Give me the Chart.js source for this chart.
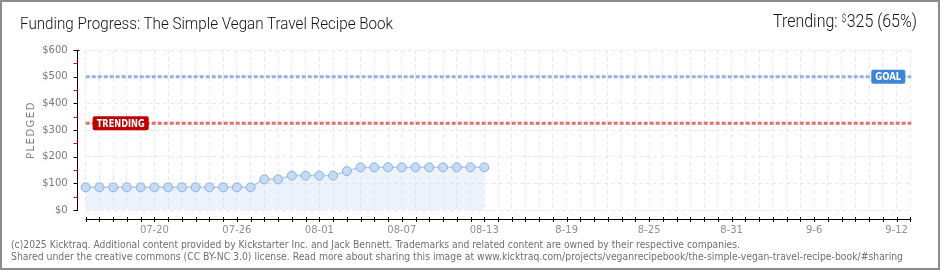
<!DOCTYPE html>
<html>
<head>
<meta charset="utf-8">
<script src="https://cdn.jsdelivr.net/npm/chart.js@4.4.1/dist/chart.umd.min.js"></script>
<style>
  html, body { margin: 0; padding: 0; background: #fff; }
  #wrap { position: relative; width: 940px; height: 270px; overflow: hidden; background: #fff; }
  #frame { position: absolute; left: 0; top: 0; width: 940px; height: 270px; box-sizing: border-box; border: 2px solid #8c8c8c; pointer-events: none; }
  canvas { position: absolute; left: 0; top: 0; }
  .txt { position: absolute; white-space: nowrap; line-height: 1; transform-origin: 0 0;
         font-family: "DejaVu Sans Condensed", "DejaVu Sans", sans-serif; }
  .head { font-family: Roboto, "DejaVu Sans Condensed", sans-serif; font-weight: 300; color: #111; }
  #title { left: 20px; top: 15.6px; font-size: 16px; }
  #trend { left: 773px; top: 12.6px; font-size: 17.5px; }
  #trend .sup { font-size: 10px; position: relative; top: -5px; }
  #pledged { left: 30.5px; top: 130px; font-size: 10px; color: #808080; letter-spacing: 1.5px;
             transform: translate(-50%, -50%) rotate(-90deg); transform-origin: 50% 50%;
             font-family: "DejaVu Sans", sans-serif; }
  .foot { font-size: 10px; color: #707070; }
  #foot1 { left: 11px; top: 239.5px; }
  #foot2 { left: 11px; top: 251.8px; }
</style>
</head>
<body>
<div id="wrap">
  <canvas id="chart" width="940" height="270"></canvas>
  <div id="title" class="txt head fit" data-w="373">Funding Progress: The Simple Vegan Travel Recipe Book</div>
  <div id="trend" class="txt head fit" data-w="144">Trending: <span class="sup">$</span>325 (65%)</div>
  <div id="pledged" class="txt">PLEDGED</div>
  <div id="foot1" class="txt foot fit" data-w="729">(c)2025 Kicktraq. Additional content provided by Kickstarter Inc. and Jack Bennett. Trademarks and related content are owned by their respective companies.</div>
  <div id="foot2" class="txt foot fit" data-w="892">Shared under the creative commons (CC BY-NC 3.0) license. Read more about sharing this image at www.kicktraq.com/projects/veganrecipebook/the-simple-vegan-travel-recipe-book/#sharing</div>
  <div id="frame"></div>
</div>
<script>
const days = [
  '07-15', '07-16', '07-17', '07-18', '07-19', '07-20', '07-21', '07-22', '07-23', '07-24',
  '07-25', '07-26', '07-27', '07-28', '07-29', '07-30', '07-31', '08-01', '08-02', '08-03',
  '08-04', '08-05', '08-06', '08-07', '08-08', '08-09', '08-10', '08-11', '08-12', '08-13',
  '08-14', '08-15', '08-16', '08-17', '08-18', '08-19', '08-20', '08-21', '08-22', '08-23',
  '08-24', '08-25', '08-26', '08-27', '08-28', '08-29', '08-30', '08-31', '09-01', '09-02',
  '09-03', '09-04', '09-05', '09-06', '09-07', '09-08', '09-09', '09-10', '09-11', '09-12',
  '09-13'
];
const tickDates = ['07-20', '07-26', '08-01', '08-07', '08-13', '08-19', '08-25', '08-31', '09-06', '09-12'];
const tickLabels = ['07-20', '07-26', '08-01', '08-07', '08-13', '8-19', '8-25', '8-31', '9-6', '9-12'];
// pledged total per day (only the days so far)
const pledged = [
  85, 85, 85, 85, 85, 85, 85, 85, 85, 85, 85, 85, 85,
  115, 115, 129, 129, 129, 129, 146,
  160, 160, 160, 160, 160, 160, 160, 160, 160, 160
];
const goal = 500;
const trending = 325;

// squeeze html text to the width it has in the picture
document.querySelectorAll('.fit').forEach((el) => {
  const w = el.getBoundingClientRect().width;
  el.style.transform = 'scaleX(' + (el.dataset.w / w) + ')';
});

function refLine(ctx, area, y, color) {
  ctx.save();
  ctx.strokeStyle = color;
  ctx.lineWidth = 3;
  ctx.setLineDash([4, 2]);
  ctx.beginPath();
  ctx.moveTo(area.left, y);
  ctx.lineTo(area.right + 1, y);
  ctx.stroke();
  ctx.restore();
}

function badge(ctx, x, y, w, text, color) {
  ctx.save();
  ctx.fillStyle = color;
  ctx.beginPath();
  ctx.roundRect(x, y - 7, w, 14, 2);
  ctx.fill();
  ctx.fillStyle = '#fff';
  ctx.font = 'bold 10.5px "DejaVu Sans Condensed", "DejaVu Sans", sans-serif';
  ctx.textBaseline = 'middle';
  ctx.textAlign = 'center';
  ctx.fillText(text, x + w / 2, y + 0.5, w - 8);
  ctx.restore();
}

const kickAxes = {
  id: 'kickAxes',
  beforeDatasetsDraw(chart) {
    const { ctx, chartArea, scales } = chart;
    refLine(ctx, chartArea, scales.y.getPixelForValue(goal), '#93b3df');
    refLine(ctx, chartArea, scales.y.getPixelForValue(trending), '#de7070');
  },
  afterDraw(chart) {
    const { ctx, chartArea: a, scales } = chart;
    const x = scales.x, y = scales.y;
    const ax = Math.round(a.left) - 9 + 0.5;
    const ay = Math.round(a.bottom) + 9.5;
    ctx.save();
    ctx.lineWidth = 1;
    ctx.strokeStyle = '#000';
    // y axis
    ctx.beginPath();
    ctx.moveTo(ax, y.getPixelForValue(600));
    ctx.lineTo(ax, y.getPixelForValue(0) + 1);
    for (let v = 0; v <= 600; v += 100) {
      const py = Math.round(y.getPixelForValue(v)) + 0.5;
      ctx.moveTo(ax - 4, py);
      ctx.lineTo(ax + (v === 600 ? 2 : 0), py);
    }
    ctx.stroke();
    ctx.strokeStyle = '#e00000';
    ctx.beginPath();
    for (let v = 50; v < 600; v += 100) {
      const py = Math.round(y.getPixelForValue(v)) + 0.5;
      ctx.moveTo(ax - 4, py);
      ctx.lineTo(ax, py);
    }
    ctx.stroke();
    // x axis
    ctx.strokeStyle = '#000';
    ctx.beginPath();
    ctx.moveTo(x.getPixelForValue(0), ay);
    ctx.lineTo(x.getPixelForValue(days.length - 1) + 1, ay);
    days.forEach((d, i) => {
      const px = Math.round(x.getPixelForValue(i)) + 0.5;
      ctx.moveTo(px, ay - 2.5);
      ctx.lineTo(px, ay + 2.5);
    });
    ctx.stroke();
    ctx.restore();

    badge(ctx, a.right - 39, y.getPixelForValue(goal), 34, 'GOAL', '#3a86d8');
    badge(ctx, a.left + 7, y.getPixelForValue(trending), 56, 'TRENDING', '#bf0000');
  },
};

const tickFont = { family: '"DejaVu Sans", sans-serif', size: 10 };

new Chart(document.getElementById('chart').getContext('2d'), {
  type: 'line',
  data: {
    labels: days,
    datasets: [
      {
        data: pledged,
        borderColor: '#b3cdee',
        borderWidth: 1.5,
        backgroundColor: 'rgba(200, 222, 248, 0.35)',
        fill: 'origin',
        tension: 0,
        pointRadius: 4.5,
        pointBackgroundColor: '#c3dbf6',
        pointBorderColor: '#8fb0db',
        pointBorderWidth: 1,
      },
    ],
  },
  options: {
    responsive: false,
    animation: false,
    layout: { padding: { left: 29.7, right: 29.7, top: 50, bottom: 0 } },
    plugins: { legend: { display: false }, tooltip: { enabled: false } },
    scales: {
      x: {
        type: 'category',
        offset: false,
        grid: { color: '#e9e9e9', drawTicks: false },
        border: { display: false, dash: [4, 3] },
        ticks: {
          autoSkip: false,
          maxRotation: 0,
          padding: 14,
          color: '#909090',
          font: tickFont,
          callback: (v, i) => {
            const k = tickDates.indexOf(days[i]);
            return k >= 0 ? tickLabels[k] : '';
          },
        },
        afterFit: (s) => { s.height = 60; },
      },
      y: {
        min: 0,
        max: 600,
        grid: { color: '#e9e9e9', drawTicks: false },
        border: { display: false, dash: [4, 3] },
        ticks: {
          stepSize: 100,
          padding: 18,
          color: '#7a7a7a',
          font: tickFont,
          callback: (v) => '$' + v,
        },
        afterFit: (s) => { s.width = 56; },
      },
    },
  },
  plugins: [kickAxes],
});
</script>
</body>
</html>
